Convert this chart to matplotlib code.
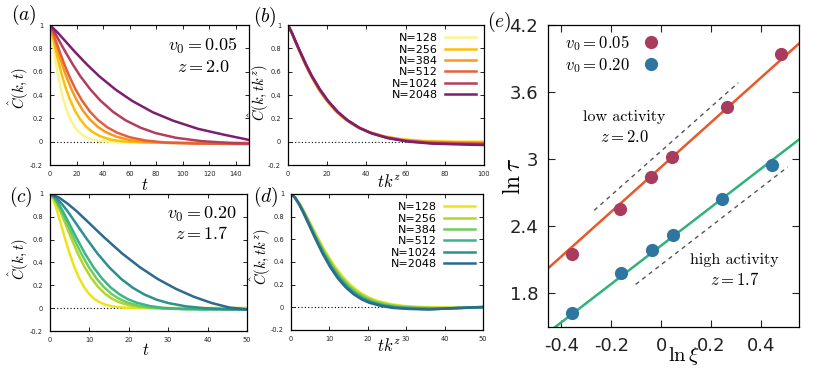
import numpy as np
import matplotlib
matplotlib.use('Agg')
import matplotlib.pyplot as plt

plt.rcParams['mathtext.fontset'] = 'cm'
plt.rcParams['axes.unicode_minus'] = False
plt.rcParams['font.family'] = 'DejaVu Sans'

sizes = ['N=128', 'N=256', 'N=384', 'N=512', 'N=1024', 'N=2048']
warm_colours = ['#fbf48c', '#fbc10a', '#f79a1e', '#e5603a', '#b23f5c', '#7d1f70']
cool_colours = ['#ede31a', '#b3d62a', '#6fcc5e', '#3cb48a', '#2d8f8e', '#2c6a8e']

# panel (a): v0 = 0.05, C(k,t) against t
a_t = [
    [0, 1, 2, 3, 4.5, 6, 8, 10, 12.5, 15, 18, 21, 25, 30, 36, 45, 60, 150],
    [0, 1.5, 3, 4.5, 6.75, 9, 12, 15, 18.75, 22.5, 27, 31.5, 37.5, 45, 54, 67.5, 90, 150],
    [0, 2, 4, 6, 9, 12, 16, 20, 25, 30, 36, 42, 50, 60, 72, 90, 120, 150],
    [0, 2.4, 4.8, 7.2, 10.8, 14.4, 19.2, 24, 30, 36, 43.2, 50.4, 60, 72, 86.4, 108, 144, 150],
    [0, 3.8, 7.6, 11.4, 17.1, 22.8, 30.4, 38, 47.5, 57, 68.4, 79.8, 95, 114, 136.8, 150],
    [0, 6.2, 12.4, 18.6, 27.9, 37.2, 49.6, 62, 77.5, 93, 111.6, 130.2, 150],
]
a_c = [
    [1, 0.932, 0.854, 0.778, 0.669, 0.571, 0.458, 0.365, 0.270, 0.199, 0.136, 0.091, 0.052, 0.024, 0.008, -0.001, -0.005, -0.005],
    [1, 0.931, 0.854, 0.777, 0.668, 0.569, 0.456, 0.362, 0.267, 0.195, 0.131, 0.087, 0.048, 0.019, 0.003, -0.006, -0.010, -0.010],
    [1, 0.931, 0.853, 0.776, 0.666, 0.567, 0.453, 0.359, 0.263, 0.191, 0.127, 0.082, 0.043, 0.014, -0.002, -0.011, -0.015, -0.015],
    [1, 0.931, 0.852, 0.775, 0.664, 0.564, 0.450, 0.355, 0.259, 0.187, 0.123, 0.078, 0.038, 0.010, -0.007, -0.016, -0.020, -0.020],
    [1, 0.930, 0.851, 0.774, 0.663, 0.562, 0.448, 0.352, 0.256, 0.183, 0.119, 0.073, 0.033, 0.005, -0.012, -0.016],
    [1, 0.930, 0.851, 0.772, 0.661, 0.560, 0.445, 0.349, 0.252, 0.179, 0.110, 0.062, 0.015],
]

# panel (b): v0 = 0.05, rescaled time t k^z
b_x = [
    [0, 1.9, 3.8, 5.7, 8.6, 11.4, 15.2, 19, 23.8, 28.5, 34.2, 39.9, 47.5, 57, 68.4, 85.5, 100],
    [0, 1.9, 3.9, 5.8, 8.7, 11.6, 15.4, 19.3, 24.1, 29.0, 34.7, 40.5, 48.3, 57.9, 69.5, 86.9, 100],
    [0, 2.0, 3.9, 5.9, 8.8, 11.8, 15.7, 19.6, 24.5, 29.4, 35.3, 41.2, 49, 58.8, 70.6, 88.2, 100],
    [0, 2.0, 4.0, 6.0, 9.0, 11.9, 15.9, 19.9, 24.9, 29.9, 35.8, 41.8, 49.8, 59.7, 71.6, 89.6, 100],
    [0, 2.0, 4.0, 6.1, 9.1, 12.1, 16.2, 20.2, 25.3, 30.3, 36.4, 42.4, 50.5, 60.6, 72.7, 90.9, 100],
    [0, 2.1, 4.1, 6.2, 9.2, 12.3, 16.4, 20.5, 25.6, 30.8, 36.9, 43.1, 51.3, 61.5, 73.8, 92.3, 100],
]
b_c = [
    [1, 0.932, 0.854, 0.778, 0.669, 0.571, 0.458, 0.365, 0.270, 0.199, 0.136, 0.091, 0.052, 0.024, 0.010, 0.004, 0.003],
    [1, 0.931, 0.854, 0.777, 0.668, 0.569, 0.456, 0.362, 0.267, 0.195, 0.131, 0.087, 0.048, 0.019, 0.004, -0.003, -0.004],
    [1, 0.931, 0.853, 0.776, 0.666, 0.567, 0.453, 0.359, 0.263, 0.191, 0.127, 0.082, 0.043, 0.014, -0.002, -0.008, -0.010],
    [1, 0.931, 0.852, 0.775, 0.664, 0.564, 0.450, 0.355, 0.259, 0.187, 0.123, 0.078, 0.038, 0.010, -0.007, -0.014, -0.016],
    [1, 0.930, 0.851, 0.774, 0.663, 0.562, 0.448, 0.352, 0.256, 0.183, 0.119, 0.073, 0.033, 0.005, -0.012, -0.020, -0.022],
    [1, 0.930, 0.851, 0.772, 0.661, 0.560, 0.445, 0.349, 0.252, 0.179, 0.114, 0.069, 0.029, 0.000, -0.017, -0.026, -0.029],
]

# panel (c): v0 = 0.20, C(k,t) against t
c_t = [
    [0, 0.61, 1.22, 1.83, 2.75, 3.66, 4.88, 6.1, 7.32, 8.54, 9.76, 10.98, 12.2, 14.03, 15.86, 18.3, 21.35, 50],
    [0, 0.87, 1.74, 2.61, 3.92, 5.22, 6.96, 8.7, 10.44, 12.18, 13.92, 15.66, 17.4, 20.01, 22.62, 26.1, 30.45, 50],
    [0, 0.98, 1.96, 2.94, 4.41, 5.88, 7.84, 9.8, 11.76, 13.72, 15.68, 17.64, 19.6, 22.54, 25.48, 29.4, 34.3, 50],
    [0, 1.1, 2.2, 3.3, 4.95, 6.6, 8.8, 11, 13.2, 15.4, 17.6, 19.8, 22, 25.3, 28.6, 33, 38.5, 50],
    [0, 1.5, 3, 4.5, 6.75, 9, 12, 15, 18, 21, 24, 27, 30, 34.5, 39, 45, 50],
    [0, 2.28, 4.56, 6.84, 10.26, 13.68, 18.24, 22.8, 27.36, 31.92, 36.48, 41.04, 45.6, 50],
]
c_c = [
    [1, 0.969, 0.914, 0.849, 0.739, 0.628, 0.489, 0.368, 0.269, 0.191, 0.132, 0.089, 0.059, 0.031, 0.015, 0.006, 0.001, 0.002],
    [1, 0.969, 0.914, 0.848, 0.738, 0.626, 0.486, 0.365, 0.265, 0.187, 0.128, 0.084, 0.054, 0.026, 0.010, 0.001, -0.004, -0.005],
    [1, 0.969, 0.913, 0.847, 0.736, 0.624, 0.484, 0.362, 0.262, 0.183, 0.123, 0.080, 0.050, 0.021, 0.005, -0.004, -0.009, -0.010],
    [1, 0.969, 0.913, 0.847, 0.736, 0.624, 0.483, 0.360, 0.260, 0.181, 0.122, 0.078, 0.048, 0.019, 0.003, -0.006, -0.011, -0.012],
    [1, 0.969, 0.913, 0.847, 0.735, 0.622, 0.481, 0.359, 0.258, 0.179, 0.119, 0.075, 0.045, 0.016, 0.000, -0.009, -0.012],
    [1, 0.969, 0.913, 0.847, 0.735, 0.622, 0.481, 0.359, 0.255, 0.170, 0.100, 0.045, 0.005, -0.010],
]

# panel (d): v0 = 0.20, rescaled time t k^z
d_x = [
    [0, 1.13, 2.26, 3.39, 5.09, 6.78, 9.04, 11.3, 13.56, 15.82, 18.08, 20.34, 22.6, 25.99, 29.38, 33.9, 39.55, 50],
    [0, 1.1, 2.2, 3.3, 4.95, 6.6, 8.8, 11, 13.2, 15.4, 17.6, 19.8, 22, 25.3, 28.6, 33, 38.5, 50],
    [0, 1.08, 2.16, 3.24, 4.86, 6.48, 8.64, 10.8, 12.96, 15.12, 17.28, 19.44, 21.6, 24.84, 28.08, 32.4, 37.8, 44, 50],
    [0, 1.06, 2.12, 3.18, 4.77, 6.36, 8.48, 10.6, 12.72, 14.84, 16.96, 19.08, 21.2, 24.38, 27.56, 31.8, 37.1, 43, 50],
    [0, 1.04, 2.08, 3.12, 4.68, 6.24, 8.32, 10.4, 12.48, 14.56, 16.64, 18.72, 20.8, 23.92, 27.04, 31.2, 36.4, 42, 50],
    [0, 1.02, 2.04, 3.06, 4.59, 6.12, 8.16, 10.2, 12.24, 14.28, 16.32, 18.36, 20.4, 23.46, 26.52, 30.6, 35.7, 40, 45, 50],
]
d_c = [
    [1, 0.969, 0.914, 0.848, 0.738, 0.627, 0.487, 0.366, 0.267, 0.188, 0.129, 0.086, 0.056, 0.028, 0.012, 0.003, -0.002, -0.003],
    [1, 0.969, 0.914, 0.848, 0.737, 0.626, 0.486, 0.364, 0.265, 0.186, 0.127, 0.084, 0.053, 0.025, 0.009, 0.000, -0.005, -0.004],
    [1, 0.969, 0.913, 0.847, 0.736, 0.624, 0.484, 0.362, 0.262, 0.183, 0.123, 0.080, 0.050, 0.021, 0.005, -0.004, -0.009, -0.005, -0.001],
    [1, 0.969, 0.913, 0.847, 0.735, 0.623, 0.482, 0.359, 0.259, 0.180, 0.120, 0.076, 0.046, 0.017, 0.001, -0.008, -0.013, -0.007, 0.000],
    [1, 0.968, 0.913, 0.846, 0.735, 0.622, 0.480, 0.357, 0.257, 0.177, 0.117, 0.074, 0.043, 0.015, -0.002, -0.011, -0.016, -0.008, 0.002],
    [1, 0.968, 0.912, 0.846, 0.734, 0.621, 0.479, 0.355, 0.254, 0.175, 0.115, 0.071, 0.040, 0.012, -0.005, -0.014, -0.019, -0.012, -0.004, 0.004],
]

# panel (e): ln tau against ln xi
ln_xi_low = [-0.358, -0.164, -0.040, 0.045, 0.262, 0.481]
ln_tau_low = [2.149, 2.558, 2.842, 3.021, 3.463, 3.940]
ln_xi_high = [-0.358, -0.162, -0.038, 0.048, 0.244, 0.444]
ln_tau_high = [1.624, 1.982, 2.191, 2.325, 2.642, 2.946]
fit_low_x = [-0.48, 0.56]
fit_low_y = [1.97, 4.05]
fit_high_x = [-0.45, 0.56]
fit_high_y = [1.455, 3.19]
guide_low_x = [-0.268, 0.309]
guide_low_y = [2.543, 3.684]
guide_high_x = [-0.102, 0.507]
guide_high_y = [1.881, 2.931]

W, H = 831, 379
fig = plt.figure(figsize=(W / 100, H / 100), dpi=100)


def px_axes(x0, y0, x1, y1):
    return fig.add_axes([x0 / W, 1 - y1 / H, (x1 - x0) / W, (y1 - y0) / H])


def style_small(ax, xmax, xstep):
    ax.set_xlim(0, xmax)
    ax.set_ylim(-0.2, 1)
    ax.set_xticks(np.arange(0, xmax + 1, xstep))
    ax.set_yticks([-0.2, 0, 0.2, 0.4, 0.6, 0.8, 1])
    ax.set_yticklabels(['-0.2', '0', '0.2', '0.4', '0.6', '0.8', '1'])
    ax.tick_params(direction='in', top=True, right=True, length=3, width=0.7,
                   labelsize=4.8, colors='#222222')
    ax.tick_params(axis='y', pad=5)
    ax.tick_params(axis='x', pad=4)
    for s in ax.spines.values():
        s.set_linewidth(0.9)
    ax.axhline(0, color='black', lw=0.8, ls=(0, (1, 2)), zorder=1)


# axes box, xlabel spot, ylabel spot, panel tag spot
panels = [
    (px_axes(50, 25, 249, 165), a_t, a_c, warm_colours, 150, 20, '$t$', r'$\hat{C}(k,t)$', '(a)',
     (0.477, -0.075), (-0.095, 0.55), (-0.07, 1.07)),
    (px_axes(288, 25, 484, 165), b_x, b_c, warm_colours, 100, 20, '$tk^z$', r'$\hat{C}(k,tk^z)$', '(b)',
     (0.515, -0.055), (-0.085, 0.52), (-0.056, 1.057)),
    (px_axes(50, 194, 247, 331), c_t, c_c, cool_colours, 50, 10, '$t$', r'$\hat{C}(k,t)$', '(c)',
     (0.487, -0.075), (-0.096, 0.525), (-0.086, 0.98)),
    (px_axes(291, 194, 483, 330), d_x, d_c, cool_colours, 50, 10, '$tk^z$', r'$\hat{C}(k,tk^z)$', '(d)',
     (0.51, -0.05), (-0.096, 0.54), (-0.068, 0.98)),
]

for ax, xs, ys, cols, xmax, xstep, xlab, ylab, tag, xl, yl, tg in panels:
    style_small(ax, xmax, xstep)
    for x, y, col, lab in zip(xs, ys, cols, sizes):
        ax.plot(x, y, color=col, lw=1.8, label=lab, zorder=2)
    ax.set_xlabel(xlab, fontsize=12)
    ax.xaxis.set_label_coords(*xl)
    ax.set_ylabel(ylab, fontsize=10.5)
    ax.yaxis.set_label_coords(*yl)
    ax.text(tg[0], tg[1], '$' + tag + '$', transform=ax.transAxes, fontsize=14,
            ha='right', va='center')

ax_a, ax_b, ax_c, ax_d = [p[0] for p in panels]
ax_a.text(0.77, 0.85, '$v_0 = 0.05$', transform=ax_a.transAxes, fontsize=13, ha='center', va='center')
ax_a.text(0.77, 0.70, '$z = 2.0$', transform=ax_a.transAxes, fontsize=13, ha='center', va='center')
ax_c.text(0.77, 0.85, '$v_0 = 0.20$', transform=ax_c.transAxes, fontsize=13, ha='center', va='center')
ax_c.text(0.77, 0.71, '$z = 1.7$', transform=ax_c.transAxes, fontsize=13, ha='center', va='center')

for ax in (ax_b, ax_d):
    ax.legend(loc='upper right', frameon=False, markerfirst=False, fontsize=8,
              handlelength=2.8, handletextpad=0.6, labelspacing=0.12,
              borderaxespad=0.45, borderpad=0.3)

# panel (e)
ax_e = px_axes(548, 25, 799, 327)
ax_e.set_xlim(-0.453, 0.552)
ax_e.set_ylim(1.5, 4.2)
ax_e.plot(fit_low_x, fit_low_y, color='#e8582b', lw=1.8, zorder=2)
ax_e.plot(fit_high_x, fit_high_y, color='#2fb37b', lw=1.8, zorder=2)
ax_e.plot(guide_low_x, guide_low_y, color='#555555', lw=1.0, ls=(0, (3, 3)))
ax_e.plot(guide_high_x, guide_high_y, color='#555555', lw=1.0, ls=(0, (3, 3)))
ax_e.plot(ln_xi_low, ln_tau_low, 'o', color='#a93b5c', ms=9.5, mec='none', zorder=3,
          label='$v_0 = 0.05$')
ax_e.plot(ln_xi_high, ln_tau_high, 'o', color='#2e76a0', ms=9.5, mec='none', zorder=3,
          label='$v_0 = 0.20$')
ax_e.set_xticks([-0.4, -0.2, 0, 0.2, 0.4])
ax_e.set_xticklabels(['-0.4', '-0.2', '0', '0.2', '0.4'])
ax_e.set_yticks([1.8, 2.4, 3.0, 3.6, 4.2])
ax_e.set_yticklabels(['1.8', '2.4', '3', '3.6', '4.2'])
ax_e.tick_params(direction='in', top=True, right=True, length=5, width=0.8,
                 labelsize=13, colors='#222222', pad=7)
for s in ax_e.spines.values():
    s.set_linewidth(0.9)
ax_e.set_xlabel(r'$\ln\xi$', fontsize=15)
ax_e.xaxis.set_label_coords(0.54, -0.058)
ax_e.set_ylabel(r'$\ln\tau$', fontsize=17)
ax_e.yaxis.set_label_coords(-0.09, 0.5)
ax_e.legend(loc='upper left', bbox_to_anchor=(0.035, 1.0), frameon=False, markerfirst=False,
            fontsize=12, handlelength=0.8, handletextpad=0.9, labelspacing=0.15,
            borderaxespad=0.3, borderpad=0.2)
ax_e.text(-0.148, 3.38, 'low activity', fontsize=11.5, family='cmr10', ha='center', va='center')
ax_e.text(-0.148, 3.20, '$z = 2.0$', fontsize=12, ha='center', va='center')
ax_e.text(0.293, 2.10, 'high activity', fontsize=11.5, family='cmr10', ha='center', va='center')
ax_e.text(0.293, 1.92, '$z = 1.7$', fontsize=12, ha='center', va='center')
ax_e.text(-0.195, 1.01, '$(e)$', transform=ax_e.transAxes, fontsize=14, ha='center', va='center')

fig.savefig('out.png', dpi=100)
